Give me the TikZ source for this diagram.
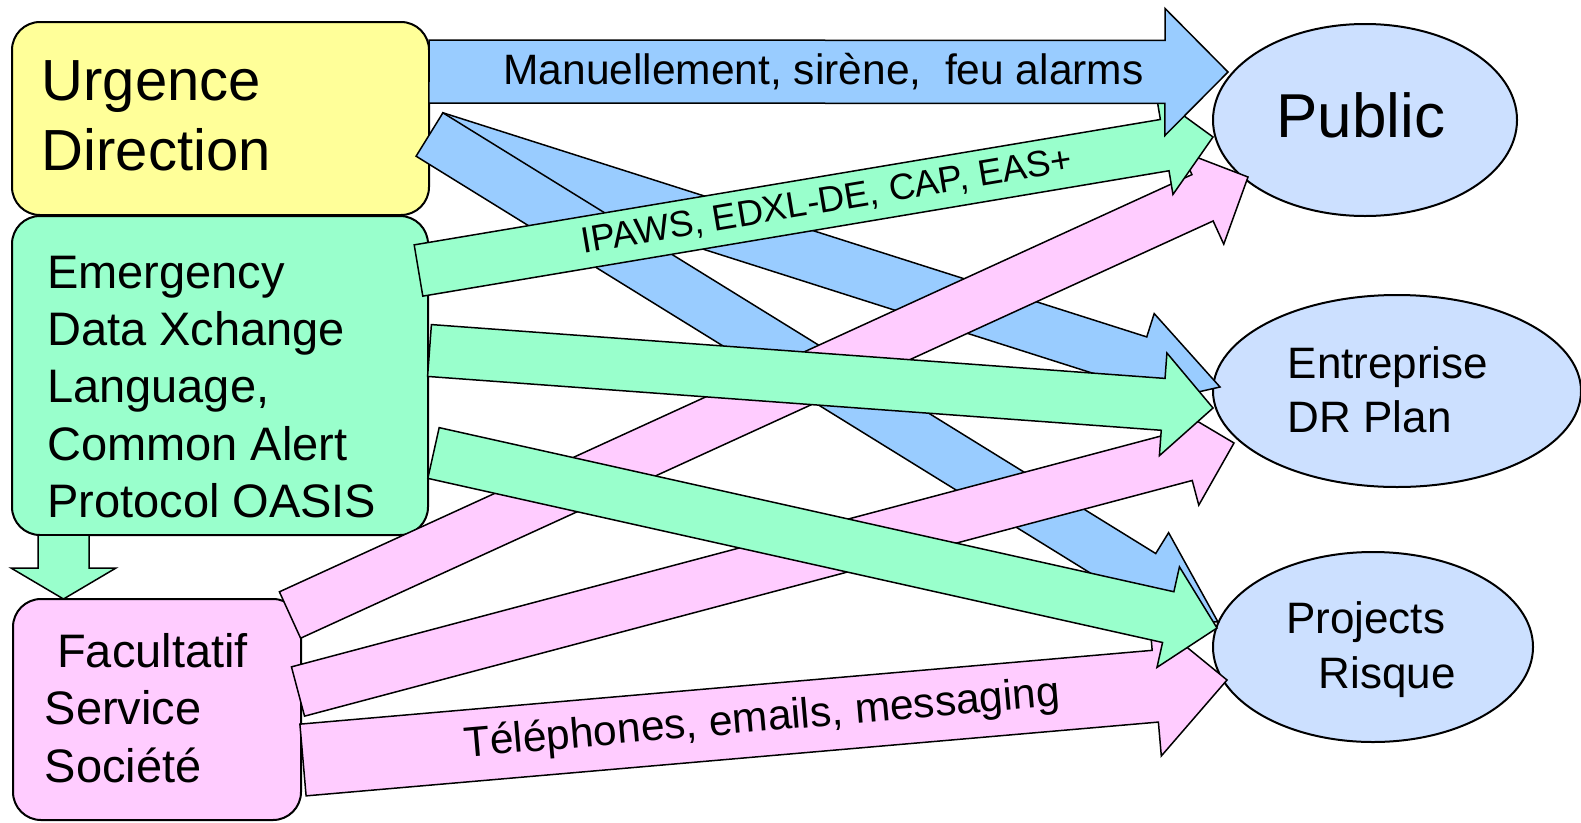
\documentclass[tikz,border=0pt]{standalone}
\usepackage{fontspec}
\setmainfont{Liberation Sans}
\usetikzlibrary{calc,shapes.geometric}
\definecolor{ybox}{HTML}{FFFF99}
\definecolor{gbox}{HTML}{99FFCC}
\definecolor{pbox}{HTML}{FFCCFF}
\definecolor{barr}{HTML}{99CCFF}
\definecolor{ell}{HTML}{CCE0FF}
% #1 style, #2 tail coordinate, #3 tip coordinate, #4 shaft half width, #5 head half width, #6 head length
\newcommand{\myblockarrow}[6]{%
  \coordinate (hb) at ($(#3)!#6!(#2)$);
  \filldraw[#1] ($(#2)!#4!90:(#3)$) -- ($(hb)!#4!90:(#3)$) -- ($(hb)!#5!90:(#3)$) -- (#3)
     -- ($(hb)!#5!-90:(#3)$) -- ($(hb)!#4!-90:(#3)$) -- ($(#2)!#4!-90:(#3)$) -- cycle;}
\begin{document}
\begin{tikzpicture}[x=1pt,y=-1pt,
  box/.style={draw=black,line width=2pt,rounded corners=28pt,inner sep=0pt,outer sep=0pt,anchor=north west},
  oval/.style={ellipse,draw=black,line width=2pt,fill=ell,inner sep=0pt},
  arr/.style={draw=black,line width=1.5pt,line join=miter},
  txt/.style={inner sep=0pt,anchor=base west},
  big/.style={font=\fontsize{58}{70}\selectfont},
  mid/.style={font=\fontsize{47}{57}\selectfont},
  sml/.style={font=\fontsize{44}{53}\selectfont},
  lbl/.style={inner sep=0pt}]
\useasboundingbox (0,0) rectangle (1581,822);

% boxes
\node[box,fill=ybox,minimum width=417pt,minimum height=193pt] (urg) at (12,22) {};
\node[box,fill=gbox,minimum width=416pt,minimum height=319pt] (edx) at (12,216) {};
\node[box,fill=pbox,minimum width=288pt,minimum height=221pt] (fac) at (13,599) {};

% ellipses
\node[oval,minimum width=304pt,minimum height=192pt] (pub) at (1365,120) {};
\node[oval,minimum width=368pt,minimum height=192pt] (ent) at (1397,391) {};
\node[oval,minimum width=320pt,minimum height=190pt] (prj) at (1373,647) {};

% box texts
\node[txt,big] (t1) at (41.5,100) {Urgence};
\node[txt,big] (t2) at (41.5,170) {Direction};
\node[txt,mid] (t3) at (47,288) {Emergency};
\node[txt,mid] (t4) at (47,345.3) {Data Xchange};
\node[txt,mid] (t5) at (47,402.6) {Language,};
\node[txt,mid] (t6) at (47,460) {Common Alert};
\node[txt,mid] (t7) at (47,517.2) {Protocol OASIS};
\node[txt,mid] (t8) at (57,667) {Facultatif};
\node[txt,mid] (t9) at (44.5,724) {Service};
\node[txt,mid] (t10) at (44.5,782) {Société};
\node[txt,font=\fontsize{62}{70}\selectfont] (t11) at (1276,137) {Public};
\node[txt,sml] (t12) at (1287.5,378) {Entreprise};
\node[txt,sml] (t13) at (1287.5,432) {DR Plan};
\node[txt,sml] (t14) at (1286,633) {Projects};
\node[txt,sml] (t15) at (1318.5,688) {Risque};

% arrow end points
\coordinate (b1t) at (429,71.5);   \coordinate (b1h) at (1228,72);
\coordinate (b2t) at (435,137);    \coordinate (b2h) at (1220,387);
\coordinate (b3t) at (429.5,134.5);\coordinate (b3h) at (1218,622);
\coordinate (g1t) at (418.5,270.5);\coordinate (g1h) at (1213,137);
\coordinate (g2t) at (429.5,350.5);\coordinate (g2h) at (1213,408);
\coordinate (g3t) at (433.5,453);  \coordinate (g3h) at (1217,628);
\coordinate (p1t) at (290,615);    \coordinate (p1h) at (1248,177);
\coordinate (p2t) at (298,691.5);  \coordinate (p2h) at (1234,443);
\coordinate (p3t) at (303,760);    \coordinate (p3h) at (1227,680);
\coordinate (dt) at (63.5,535);    \coordinate (dh) at (63.5,599);

% arrows, bottom to top
\myblockarrow{arr,fill=barr}{b2t}{b2h}{25.5pt}{50pt}{85pt}
\myblockarrow{arr,fill=barr}{b3t}{b3h}{25.5pt}{50pt}{89pt}
\myblockarrow{arr,fill=pbox}{p1t}{p1h}{25.5pt}{51pt}{50pt}
\myblockarrow{arr,fill=pbox}{p2t}{p2h}{25.5pt}{51pt}{50pt}
\myblockarrow{arr,fill=pbox}{p3t}{p3h}{36pt}{70pt}{72pt}
\path (p3t) -- (p3h) node[lbl,pos=0.497,sloped,font=\fontsize{42.5}{46}\selectfont] (l3) {Téléphones, emails, messaging};
\myblockarrow{arr,fill=gbox}{g1t}{g1h}{26pt}{50pt}{49pt}
\path (g1t) -- (g1h) node[lbl,pos=0.5135,sloped,font=\fontsize{36.5}{40}\selectfont] (l2) {IPAWS, EDXL-DE, CAP, EAS+};
\myblockarrow{arr,fill=gbox}{g2t}{g2h}{26pt}{51.5pt}{50pt}
\myblockarrow{arr,fill=gbox}{g3t}{g3h}{26pt}{51.5pt}{50pt}
\myblockarrow{arr,fill=barr}{b1t}{b1h}{31.5pt}{63.5pt}{63pt}
\node[lbl,anchor=base,font=\fontsize{42.5}{46}\selectfont] (l1) at (823.5,84) {Manuellement, sirène,\ \ feu alarms};
\myblockarrow{arr,fill=gbox}{dt}{dh}{25.5pt}{52.5pt}{31pt}
\end{tikzpicture}
\end{document}
